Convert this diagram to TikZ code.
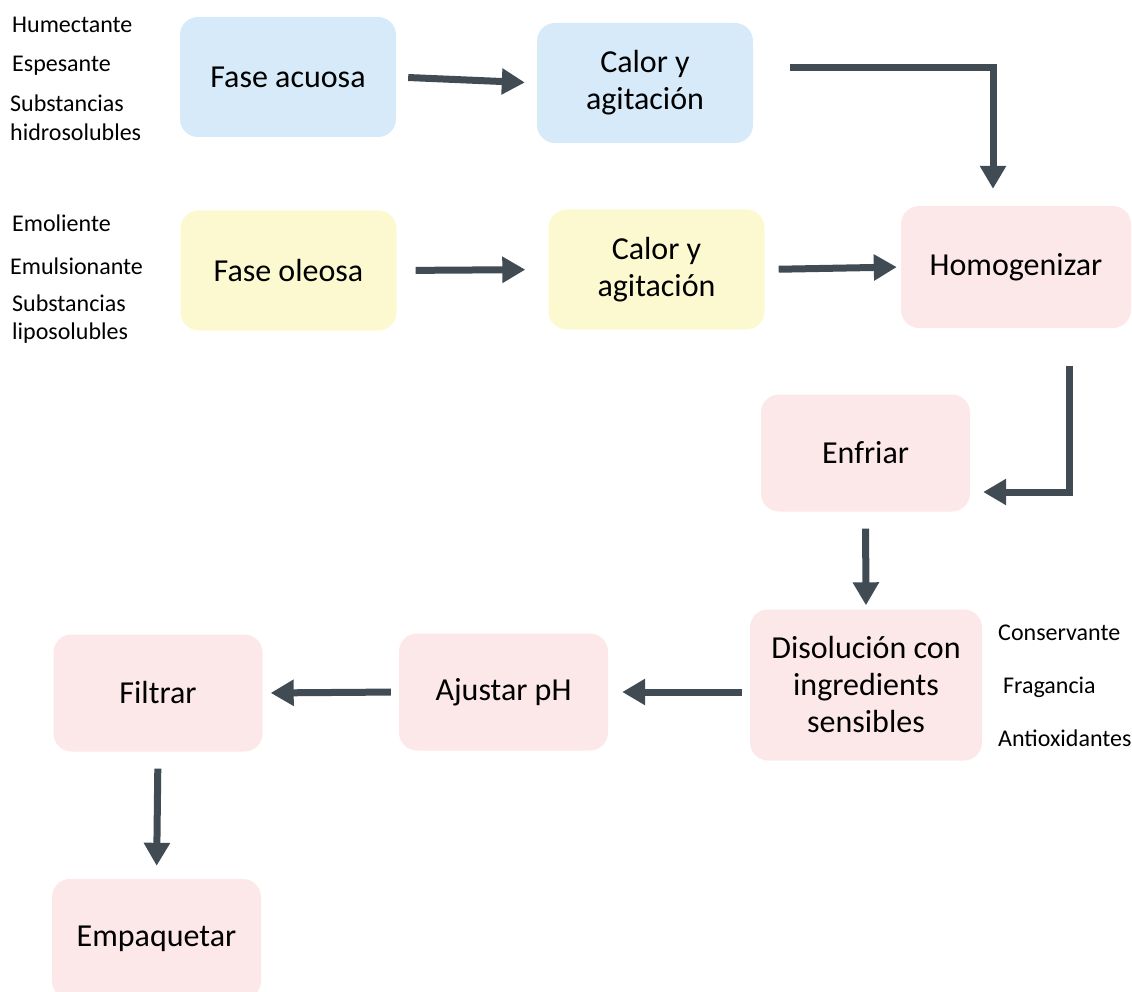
\documentclass[tikz,border=0pt]{standalone}
\usepackage{fontspec}
\setmainfont{Carlito}
\usetikzlibrary{arrows.meta}
\definecolor{azul}{RGB}{214,234,249}
\definecolor{amarillo}{RGB}{252,249,208}
\definecolor{rosa}{RGB}{253,232,233}
\definecolor{linea}{RGB}{64,75,83}
\begin{document}
\begin{tikzpicture}[x=1pt,y=-1pt]
    \tikzstyle{caja}=[rounded corners=18pt, minimum width=216pt, minimum height=120pt, inner sep=0pt, align=center, font=\fontsize{32}{37}\selectfont]
    \tikzstyle{rosada}=[caja, fill=rosa, minimum width=209pt, minimum height=117pt]
    \tikzstyle{flecha}=[draw=linea, line width=7pt, -{Triangle[length=23pt, width=25pt]}]
    \tikzstyle{lista}=[anchor=west, inner sep=0pt, font=\fontsize{24}{28}\selectfont]

    \useasboundingbox (0,0) rectangle (1132,992);

    % boxes
    \node [caja, fill=azul] (acuosa) at (288,77) {Fase acuosa};
    \node [caja, fill=azul] (calorA) at (645,83) {Calor y\\agitación};
    \node [caja, fill=amarillo] (oleosa) at (288.5,270.5) {Fase oleosa};
    \node [caja, fill=amarillo] (calorO) at (656.5,269.5) {Calor y\\agitación};
    \node [rosada, minimum width=230pt, minimum height=122pt] (homog) at (1016,267) {Homogenizar};
    \node [rosada] (enfriar) at (865.5,453) {Enfriar};
    \node [rosada, minimum width=232pt, minimum height=151pt] (disol) at (866,685) {Disolución con\\ingredients\\sensibles};
    \node [rosada] (ph) at (503.5,692) {Ajustar pH};
    \node [rosada] (filtrar) at (158,693) {Filtrar};
    \node [rosada, minimum height=120pt] (empaq) at (156.5,939) {Empaquetar};

    % ingredients
    \node [lista] (hum) at (12,25) {Humectante};
    \node [lista] (esp) at (12,66) {Espesante};
    \node [lista] (subH) at (10,103) {Substancias};
    \node [lista] (hidro) at (10,132) {hidrosolubles};
    \node [lista] (emol) at (12,223) {Emoliente};
    \node [lista] (emul) at (10,266) {Emulsionante};
    \node [lista] (subL) at (12,303) {Substancias};
    \node [lista] (lipo) at (12,333) {liposolubles};
    \node [lista] (cons) at (998,633) {Conservante};
    \node [lista] (frag) at (1003,687) {Fragancia};
    \node [lista] (anti) at (998,738) {Antioxidantes};

    % corners of the bent arrows
    \coordinate (a0) at (790,68);
    \coordinate (a1) at (993,68);
    \coordinate (h0) at (1069,366);
    \coordinate (h1) at (1069,492);

    % arrows
    \draw [flecha, shorten <=12pt, shorten >=12pt] (acuosa.east) -- (calorA.west);
    \draw [flecha, shorten >=17pt] (a0) -- (a1) -- (a1 |- homog.north);
    \draw [flecha, shorten <=19pt, shorten >=23pt] (oleosa.east) -- (calorO.west);
    \draw [flecha, shorten <=14pt, shorten >=4pt] (calorO.east) -- (homog.west);
    \draw [flecha, shorten >=13pt] (h0) -- (h1) -- (enfriar.east |- h1);
    \draw [flecha, shorten <=17pt, shorten >=4pt] (enfriar.south) -- (disol.north);
    \draw [flecha, shorten <=8pt, shorten >=14pt] (disol.west |- ph.east) -- (ph.east);
    \draw [flecha, shorten <=8pt, shorten >=8pt] (ph.west) -- (filtrar.east);
    \draw [flecha, shorten <=17pt, shorten >=13pt] (filtrar.south) -- (empaq.north);
\end{tikzpicture}
\end{document}
